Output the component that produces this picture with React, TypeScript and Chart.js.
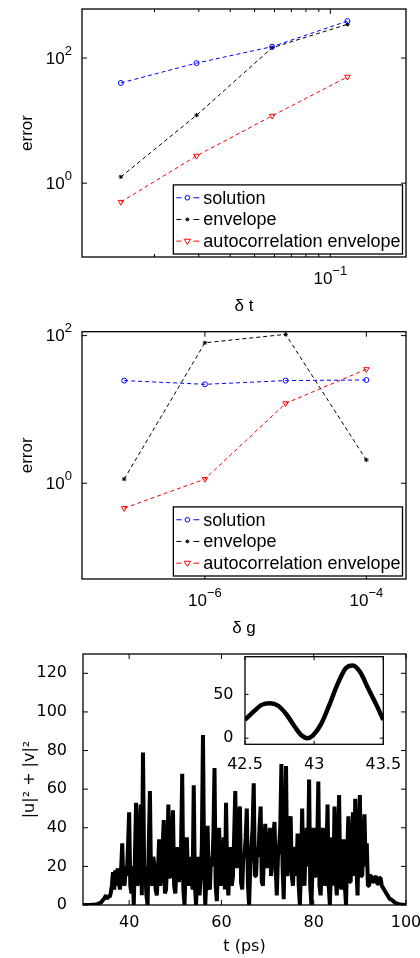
import React, { useEffect, useRef } from 'react';
import { Chart, registerables } from 'chart.js';

Chart.register(...registerables);

const FONT = '"Liberation Sans", Arial, Helvetica, sans-serif';
const FONT3 = '"DejaVu Sans", sans-serif';

// ---------- Panel 1 : error vs delta t ----------
const dtValues = [0.0147, 0.0294, 0.0587, 0.117];
const dtSolution = [40, 83, 152, 390];
const dtEnvelope = [1.26, 12.2, 146, 346];
const dtAutocorr = [0.5, 2.73, 11.9, 50];
const dtXMajor = [0.1];
const dtXMinor = [0.02, 0.03, 0.04, 0.05, 0.06, 0.07, 0.08, 0.09];
const dtYMajor = [1, 100];

// ---------- Panel 2 : error vs delta g ----------
const dgValues = [1e-7, 1e-6, 1e-5, 1e-4];
const dgSolution = [24.6, 21.9, 24.6, 25.1];
const dgEnvelope = [1.14, 80, 104, 2.07];
const dgAutocorr = [0.46, 1.14, 12.1, 35];
const dgXMajor = [1e-6, 1e-4];
const dgYMajor = [1, 100];

const seriesNames = ['solution', 'envelope', 'autocorrelation envelope'];

// ---------- Panel 3 : |u|^2 + |v|^2 vs t (sampled every 0.25 ps from 30 ps) ----------
const sigStart = 30;
const sigStep = 0.25;
const sigValues = [
  0, 0, 0, 0, 0, 0, 0, 0, 0.1, 0.1, 0.2, 0.3, 0.4, 0.6, 0.8, 1.2, 1.5, 2.5, 3, 4,
  5, 3, 5, 4, 6, 10, 17, 8, 18, 10, 19, 12, 8, 18, 32, 12, 10, 20, 15, 30,
  48, 10, 6, 20, 0, 25, 53, 10, 12, 40, 52, 5, 79, 20, 18, 5, 0, 30, 59, 12,
  10, 25, 20, 8, 5, 18, 34, 10, 15, 30, 44, 6, 8, 25, 52, 15, 14, 35, 49, 10,
  6, 18, 30, 12, 15, 30, 68, 8, 0, 20, 35, 15, 10, 25, 20, 8, 62, 10, 0, 20,
  25, 5, 15, 30, 88, 20, 0, 15, 41, 10, 8, 25, 20, 35, 71, 10, 2, 20, 40, 15,
  10, 25, 35, 8, 53, 15, 5, 20, 30, 10, 15, 35, 59, 20, 20, 45, 51, 12, 8, 25,
  25, 35, 50, 10, 0, 20, 30, 40, 63, 15, 15, 30, 25, 40, 51, 12, 10, 30, 42, 20,
  20, 30, 40, 15, 22, 35, 43, 20, 5, 25, 30, 40, 73, 20, 3, 35, 72, 15, 20, 30,
  46, 15, 10, 25, 30, 15, 37, 10, 0, 20, 50, 15, 10, 30, 40, 20, 65, 10, 0, 20,
  40, 15, 15, 30, 64, 10, 5, 20, 40, 15, 10, 25, 52, 10, 0, 20, 35, 10, 51, 15,
  5, 30, 57, 12, 8, 20, 34, 10, 0, 25, 46, 12, 12, 30, 48, 15, 55, 20, 5, 35,
  57, 15, 15, 30, 47, 20, 32, 10, 10, 15, 15, 12, 12, 14, 15, 11, 11, 14, 14, 10,
  9, 8, 7, 6, 5, 4, 3, 3, 2.5, 2, 1.5, 1, 0.8, 0.6, 0.4, 0.3, 0.2, 0.1, 0.1, 0,
  0,
];
const sigXTicks = [40, 60, 80, 100];
const sigYTicks = [0, 20, 40, 60, 80, 100, 120];

// inset
const insetT = [42.5, 42.56, 42.62, 42.68, 42.74, 42.8, 42.86, 42.91, 42.95, 42.99, 43.05, 43.11, 43.17, 43.23, 43.28, 43.33, 43.39, 43.45, 43.5];
const insetV = [21, 30, 38, 40, 37, 27, 13, 3, 0, 3, 16, 38, 62, 80, 83, 76, 57, 38, 21];
const insetXTicks = [42.5, 43, 43.5];
const insetYTicks = [0, 50];

// ---------- plugins ----------
function drawMarker(ctx: CanvasRenderingContext2D, style: string, x: number, y: number, r: number, color: string) {
  ctx.save();
  ctx.strokeStyle = color;
  ctx.lineWidth = 1;
  ctx.setLineDash([]);
  ctx.beginPath();
  if (style === 'circle') {
    ctx.arc(x, y, r, 0, Math.PI * 2);
  } else if (style === 'star') {
    const d = r * 0.7071;
    ctx.moveTo(x - r, y); ctx.lineTo(x + r, y);
    ctx.moveTo(x, y - r); ctx.lineTo(x, y + r);
    ctx.moveTo(x - d, y - d); ctx.lineTo(x + d, y + d);
    ctx.moveTo(x - d, y + d); ctx.lineTo(x + d, y - d);
  } else {
    ctx.moveTo(x - r, y - r * 0.6);
    ctx.lineTo(x + r, y - r * 0.6);
    ctx.lineTo(x, y + r);
    ctx.closePath();
  }
  ctx.stroke();
  ctx.restore();
}

function drawPow(ctx: CanvasRenderingContext2D, value: number, x: number, y: number, align: 'center' | 'right', size: number, supSize: number, raise: number) {
  const exp = String(Math.round(Math.log10(value))).replace('-', '\u2212');
  ctx.font = `${size}px ${FONT}`;
  const wb = ctx.measureText('10').width;
  ctx.font = `${supSize}px ${FONT}`;
  const we = ctx.measureText(exp).width;
  const total = wb + we;
  const sx = align === 'center' ? x - total / 2 : x - total;
  ctx.textAlign = 'left';
  ctx.textBaseline = 'middle';
  ctx.fillStyle = '#000';
  ctx.font = `${size}px ${FONT}`;
  ctx.fillText('10', sx, y);
  ctx.font = `${supSize}px ${FONT}`;
  ctx.fillText(exp, sx + wb, y - raise);
}

const framePlugin = {
  id: 'frame',
  beforeDatasetsDraw(chart: any, _a: any, o: any) {
    if (!o || !o.whiteBg) return;
    const { ctx, chartArea: ca } = chart;
    ctx.save();
    ctx.fillStyle = '#fff';
    ctx.fillRect(ca.left, ca.top, ca.right - ca.left, ca.bottom - ca.top);
    ctx.restore();
  },
  afterDatasetsDraw(chart: any, _a: any, o: any) {
    if (!o) return;
    const { ctx, chartArea: ca } = chart;
    const xs = chart.scales.x;
    const ys = chart.scales.y;
    const xMaj: number[] = o.xMajor ?? xs.ticks.map((t: any) => t.value);
    const yMaj: number[] = o.yMajor ?? ys.ticks.map((t: any) => t.value);
    const xMin: number[] = o.xMinor ?? [];
    const yMin: number[] = o.yMinor ?? [];
    const L = ca.left, R = ca.right, T = ca.top, B = ca.bottom;
    const len = o.tickLen ?? 5;
    const mlen = o.minorLen ?? 3;
    ctx.save();
    ctx.strokeStyle = '#000';
    ctx.lineWidth = o.lineWidth ?? 1.3;
    ctx.setLineDash([]);
    ctx.strokeRect(L, T, R - L, B - T);
    ctx.lineWidth = 1;
    ctx.beginPath();
    const xt = (v: number, l: number) => {
      const p = xs.getPixelForValue(v);
      if (p < L - 0.5 || p > R + 0.5) return;
      ctx.moveTo(p, B); ctx.lineTo(p, B - l);
      ctx.moveTo(p, T); ctx.lineTo(p, T + l);
    };
    const yt = (v: number, l: number) => {
      const p = ys.getPixelForValue(v);
      if (p < T - 0.5 || p > B + 0.5) return;
      ctx.moveTo(L, p); ctx.lineTo(L + l, p);
      ctx.moveTo(R, p); ctx.lineTo(R - l, p);
    };
    xMaj.forEach((v) => xt(v, len));
    yMaj.forEach((v) => yt(v, len));
    xMin.forEach((v) => xt(v, mlen));
    yMin.forEach((v) => yt(v, mlen));
    ctx.stroke();
    if (o.pow) {
      xMaj.forEach((v) => drawPow(ctx, v, xs.getPixelForValue(v), B + o.xLabelOffset, 'center', o.fontSize, o.supSize, o.raise));
      yMaj.forEach((v) => drawPow(ctx, v, L - o.yLabelGap, ys.getPixelForValue(v) + 1, 'right', o.fontSize, o.supSize, o.raise));
    }
    ctx.restore();
  },
};

const legendPlugin = {
  id: 'boxLegend',
  afterDraw(chart: any, _a: any, o: any) {
    if (!o || !o.display) return;
    const { ctx, chartArea: ca } = chart;
    const ds = chart.data.datasets;
    ctx.save();
    ctx.font = `${o.fontSize}px ${FONT}`;
    const textW = Math.max(...ds.map((d: any) => ctx.measureText(d.label).width));
    const w = 30 + textW + 2;
    const h = ds.length * o.rowH + o.padV * 2;
    const x = ca.right - o.marginRight - w;
    const y = ca.bottom - o.marginBottom - h;
    ctx.fillStyle = '#fff';
    ctx.fillRect(x, y, w, h);
    ctx.strokeStyle = '#000';
    ctx.lineWidth = 1.3;
    ctx.strokeRect(x, y, w, h);
    ds.forEach((d: any, i: number) => {
      const cy = y + o.padV + o.rowH * (i + 0.5);
      ctx.strokeStyle = d.borderColor;
      ctx.lineWidth = 1;
      ctx.beginPath();
      ctx.moveTo(x + 3, cy); ctx.lineTo(x + 8, cy);
      ctx.moveTo(x + 20, cy); ctx.lineTo(x + 26, cy);
      ctx.stroke();
      drawMarker(ctx, d.pointStyle, x + 14, cy, d.legendR, d.borderColor);
      ctx.fillStyle = '#000';
      ctx.textAlign = 'left';
      ctx.textBaseline = 'middle';
      ctx.font = `${o.fontSize}px ${FONT}`;
      ctx.fillText(d.label, x + 30, cy + 1);
    });
    ctx.restore();
  },
};

// ---------- configs ----------
function errorDatasets(xs: number[], sol: number[], env: number[], ac: number[]) {
  const mk = (ys: number[]) => xs.map((x, i) => ({ x, y: ys[i] }));
  return [
    {
      label: seriesNames[0], data: mk(sol), borderColor: '#0000ff', borderWidth: 1, borderDash: [4, 3],
      pointStyle: 'circle', pointRadius: 2.5, pointBorderColor: '#0000ff', pointBackgroundColor: 'rgba(0,0,0,0)',
      pointBorderWidth: 1, legendR: 2.3, fill: false,
    },
    {
      label: seriesNames[1], data: mk(env), borderColor: '#000000', borderWidth: 1, borderDash: [4, 3],
      pointStyle: 'star', pointRadius: 2.2, pointBorderColor: '#000000', pointBackgroundColor: 'rgba(0,0,0,0)',
      pointBorderWidth: 1, legendR: 2, fill: false,
    },
    {
      label: seriesNames[2], data: mk(ac), borderColor: '#ff0000', borderWidth: 1, borderDash: [4, 3],
      pointStyle: 'triangle', pointRotation: 180, pointRadius: 3.2, pointBorderColor: '#ff0000', pointBackgroundColor: 'rgba(0,0,0,0)',
      pointBorderWidth: 1, legendR: 3.2, fill: false,
    },
  ];
}

function errorConfig(p: any): any {
  return {
    type: 'line',
    data: { datasets: errorDatasets(p.xs, p.sol, p.env, p.ac) },
    options: {
      responsive: false,
      animation: false,
      layout: { padding: { left: 0, right: 14, top: p.top, bottom: 0 } },
      plugins: {
        legend: { display: false },
        tooltip: { enabled: false },
        frame: {
          xMajor: p.xMajor, xMinor: p.xMinor, yMajor: p.yMajor, pow: true, fontSize: 17, supSize: 13, raise: 8,
          xLabelOffset: 22, yLabelGap: 10, tickLen: 5, minorLen: 3,
        },
        boxLegend: { display: true, fontSize: 18, rowH: 21.7, padV: 2, marginRight: 3.5, marginBottom: 3 },
      },
      scales: {
        x: {
          type: 'logarithmic', min: p.xmin, max: p.xmax,
          grid: { display: false }, border: { display: false }, ticks: { display: false },
          title: { display: true, text: p.xTitle, color: '#000', font: { family: FONT, size: 17 }, padding: { top: 0, bottom: p.xTitlePad } },
          afterFit: (s: any) => { s.height = p.xAxisH; s.paddingLeft = 0; s.paddingRight = 0; },
        },
        y: {
          type: 'logarithmic', min: p.ymin, max: p.ymax,
          grid: { display: false }, border: { display: false }, ticks: { display: false },
          title: { display: true, text: 'error', color: '#000', font: { family: FONT, size: 17 }, padding: { top: 17.3, bottom: 0 } },
          afterFit: (s: any) => { s.width = 82; s.paddingTop = 0; s.paddingBottom = 0; },
        },
      },
    },
    plugins: [framePlugin, legendPlugin],
  };
}

function signalConfig(): any {
  const data = sigValues.map((v, i) => ({ x: sigStart + i * sigStep, y: v }));
  return {
    type: 'line',
    data: { datasets: [{ label: 'signal', data, borderColor: '#000', borderWidth: 4, pointRadius: 0, fill: false, tension: 0, borderJoinStyle: 'bevel' }] },
    options: {
      responsive: false,
      animation: false,
      layout: { padding: { left: 0, right: 14, top: 14, bottom: 0 } },
      plugins: { legend: { display: false }, tooltip: { enabled: false }, frame: { tickLen: 5 } },
      scales: {
        x: {
          type: 'linear', min: 30, max: 100,
          afterBuildTicks: (s: any) => { s.ticks = sigXTicks.map((v) => ({ value: v })); },
          grid: { display: false }, border: { display: false },
          ticks: { color: '#000', font: { family: FONT3, size: 16 }, padding: 0, maxRotation: 0, autoSkip: false },
          title: { display: true, text: 't (ps)', color: '#000', font: { family: FONT3, size: 16 }, padding: { top: 0, bottom: 1.5 } },
          afterFit: (s: any) => { s.height = 53; s.paddingLeft = 0; s.paddingRight = 0; },
        },
        y: {
          type: 'linear', min: 0, max: 130,
          afterBuildTicks: (s: any) => { s.ticks = sigYTicks.map((v) => ({ value: v })); },
          grid: { display: false }, border: { display: false },
          ticks: { color: '#000', font: { family: FONT3, size: 16 }, padding: 8, autoSkip: false },
          title: { display: true, text: '|u|\u00B2 + |v|\u00B2', color: '#000', font: { family: FONT3, size: 16 }, padding: { top: 20.5, bottom: 0 } },
          afterFit: (s: any) => { s.width = 83; s.paddingTop = 0; s.paddingBottom = 0; },
        },
      },
    },
    plugins: [framePlugin],
  };
}

function insetConfig(): any {
  const data = insetT.map((t, i) => ({ x: t, y: insetV[i] }));
  return {
    type: 'line',
    data: { datasets: [{ label: 'inset', data, borderColor: '#000', borderWidth: 4.5, pointRadius: 0, fill: false, tension: 0.4, cubicInterpolationMode: 'monotone' }] },
    options: {
      responsive: false,
      animation: false,
      layout: { padding: { left: 0, right: 21.7, top: 8.7, bottom: 0 } },
      plugins: { legend: { display: false }, tooltip: { enabled: false }, frame: { tickLen: 3.5, whiteBg: true } },
      scales: {
        x: {
          type: 'linear', min: 42.5, max: 43.5,
          afterBuildTicks: (s: any) => { s.ticks = insetXTicks.map((v) => ({ value: v })); },
          grid: { display: false }, border: { display: false },
          ticks: { color: '#000', font: { family: FONT3, size: 16 }, padding: 3, maxRotation: 0, autoSkip: false, callback: (v: any) => String(v) },
          afterFit: (s: any) => { s.height = 25.7; s.paddingLeft = 0; s.paddingRight = 0; },
        },
        y: {
          type: 'linear', min: -7, max: 93,
          afterBuildTicks: (s: any) => { s.ticks = insetYTicks.map((v) => ({ value: v })); },
          grid: { display: false }, border: { display: false },
          ticks: { color: '#000', font: { family: FONT3, size: 16 }, padding: 3.5, autoSkip: false, callback: (v: any) => String(v) },
          afterFit: (s: any) => { s.width = 40; s.paddingTop = 0; s.paddingBottom = 0; },
        },
      },
    },
    plugins: [framePlugin],
  };
}

export default function App() {
  const r1 = useRef<HTMLCanvasElement>(null);
  const r2 = useRef<HTMLCanvasElement>(null);
  const r3 = useRef<HTMLCanvasElement>(null);
  const r4 = useRef<HTMLCanvasElement>(null);

  useEffect(() => {
    const charts: Chart[] = [];
    if (r1.current) {
      charts.push(new Chart(r1.current, errorConfig({
        xs: dtValues, sol: dtSolution, env: dtEnvelope, ac: dtAutocorr,
        xMajor: dtXMajor, xMinor: dtXMinor, yMajor: dtYMajor,
        xmin: 0.0103, xmax: 0.2, ymin: 0.066, ymax: 608,
        top: 9, xAxisH: 63, xTitle: '\u03B4 t', xTitlePad: 3,
      })));
    }
    if (r2.current) {
      charts.push(new Chart(r2.current, errorConfig({
        xs: dgValues, sol: dgSolution, env: dgEnvelope, ac: dgAutocorr,
        xMajor: dgXMajor, xMinor: [], yMajor: dgYMajor,
        xmin: 3.2e-8, xmax: 3.1e-4, ymin: 0.0505, ymax: 113,
        top: 11.7, xAxisH: 61, xTitle: '\u03B4 g', xTitlePad: 1.8,
      })));
    }
    if (r3.current) charts.push(new Chart(r3.current, signalConfig()));
    if (r4.current) charts.push(new Chart(r4.current, insetConfig()));
    return () => charts.forEach((c) => c.destroy());
  }, []);

  const abs = (left: number, top: number, w: number, h: number): React.CSSProperties => ({
    position: 'absolute', left, top, width: w, height: h,
  });

  return (
    <div style={{ position: 'absolute', left: 0, top: 0, width: 420, height: 958, background: '#fff', overflow: 'hidden' }}>
      <div style={abs(0, 0, 420, 320)}><canvas ref={r1} width={420} height={320} style={{ display: 'block' }} /></div>
      <div style={abs(0, 320, 420, 320)}><canvas ref={r2} width={420} height={320} style={{ display: 'block' }} /></div>
      <div style={abs(0, 640, 420, 318)}><canvas ref={r3} width={420} height={318} style={{ display: 'block' }} /></div>
      <div style={abs(205, 648, 200, 122)}><canvas ref={r4} width={200} height={122} style={{ display: 'block' }} /></div>
    </div>
  );
}
